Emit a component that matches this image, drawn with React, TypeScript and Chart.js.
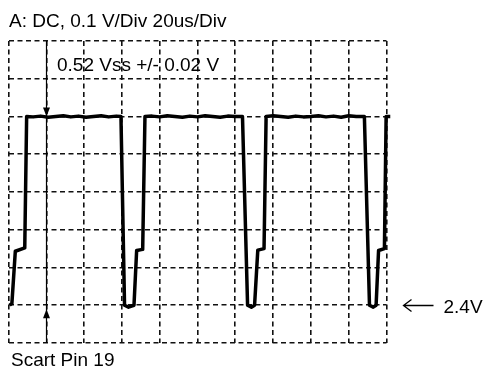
import React, { useEffect, useRef } from "react";
import { Chart, registerables } from "chart.js";

Chart.register(...registerables);

// Time base (us) and measured voltage (V) of the trace
const timeUs = [
  0.6, 1.8, 3.6, 8.6, 9.6,
  13, 17, 21, 25, 29, 33, 37, 41, 45, 49, 53, 57,
  59.5, 61.4, 63.5, 66.4, 67.8, 71, 72.2,
  76, 80, 84, 88, 92, 96, 100, 104, 108, 112, 116, 120,
  123.8, 126.5, 128.5, 130.2, 131.9, 135.2, 136.3,
  140, 144, 148, 152, 156, 160, 164, 168, 172, 176, 180, 184,
  188.3, 191, 193, 194.5, 195.8, 198.9, 199.8, 202,
];
const voltsV = [
  2.40, 2.405, 2.543, 2.552, 2.90,
  2.899, 2.901, 2.898, 2.9, 2.902, 2.899, 2.901, 2.898, 2.9, 2.902, 2.899, 2.901,
  2.90, 2.40, 2.395, 2.40, 2.545, 2.548, 2.90,
  2.901, 2.899, 2.902, 2.9, 2.898, 2.901, 2.899, 2.902, 2.9, 2.898, 2.901, 2.9,
  2.90, 2.40, 2.395, 2.40, 2.546, 2.55, 2.90,
  2.902, 2.9, 2.898, 2.901, 2.899, 2.9, 2.902, 2.899, 2.901, 2.898, 2.902, 2.9,
  2.90, 2.40, 2.395, 2.40, 2.545, 2.55, 2.90, 2.90,
];

// Grid: 10 x 8 divisions, 20 us/div and 0.1 V/div
const timeMinUs = 0;
const timeMaxUs = 200;
const timeStepUs = 20;
const voltMinV = 2.3;
const voltMaxV = 3.1;
const voltStepV = 0.1;

// Annotations
const titleText = "A: DC, 0.1 V/Div 20us/Div";
const measureText = "0.52 Vss +/- 0.02 V";
const levelText = "2.4V";
const pinText = "Scart Pin 19";
const markerTimeUs = 20;
const highLevelV = 2.9;
const lowLevelV = 2.4;

const FONT = '19px "Liberation Sans", Arial, sans-serif';
const INK = "#000000";

const annotationPlugin = {
  id: "scopeAnnotations",
  afterDraw(chart: any) {
    const ctx = chart.ctx as CanvasRenderingContext2D;
    const xs = chart.scales.x;
    const ys = chart.scales.y;
    const area = chart.chartArea;
    ctx.save();
    ctx.fillStyle = INK;
    ctx.strokeStyle = INK;

    // vertical measurement arrow
    const mx = Math.round(xs.getPixelForValue(markerTimeUs)) + 0.5;
    ctx.lineWidth = 1.2;
    ctx.beginPath();
    ctx.moveTo(mx, area.top);
    ctx.lineTo(mx, area.bottom);
    ctx.stroke();
    const hiY = ys.getPixelForValue(highLevelV);
    ctx.beginPath();
    ctx.moveTo(mx, hiY);
    ctx.lineTo(mx - 3.5, hiY - 9);
    ctx.lineTo(mx + 3.5, hiY - 9);
    ctx.closePath();
    ctx.fill();
    const loY = ys.getPixelForValue(lowLevelV) + 4;
    ctx.beginPath();
    ctx.moveTo(mx, loY);
    ctx.lineTo(mx - 3.5, loY + 9);
    ctx.lineTo(mx + 3.5, loY + 9);
    ctx.closePath();
    ctx.fill();

    // level arrow at right
    const ly = Math.round(ys.getPixelForValue(lowLevelV)) + 0.5;
    const ax0 = area.right + 17;
    const ax1 = area.right + 47;
    ctx.lineWidth = 1.3;
    ctx.beginPath();
    ctx.moveTo(ax1, ly);
    ctx.lineTo(ax0, ly);
    ctx.moveTo(ax0 + 8, ly - 6);
    ctx.lineTo(ax0, ly);
    ctx.lineTo(ax0 + 8, ly + 6);
    ctx.stroke();

    ctx.font = FONT;
    ctx.textBaseline = "alphabetic";
    ctx.textAlign = "left";
    ctx.fillText(titleText, 9, 27);
    ctx.fillText(measureText, 57, 70.5);
    ctx.fillText(levelText, area.right + 57, ly + 7);
    ctx.fillText(pinText, 11, 366);
    ctx.restore();
  },
};

export default function App() {
  const canvasRef = useRef<HTMLCanvasElement | null>(null);

  useEffect(() => {
    if (!canvasRef.current) return;
    const points = timeUs.map((t, i) => ({ x: t, y: voltsV[i] }));
    const gridOpts = {
      display: true,
      color: "#111111",
      lineWidth: 1.6,
      drawTicks: false,
      tickLength: 0,
    };
    const chart = new Chart(canvasRef.current, {
      type: "line",
      data: {
        datasets: [
          {
            data: points,
            borderColor: INK,
            borderWidth: 3.5,
            pointRadius: 0,
            tension: 0,
            fill: false,
            clip: false as any,
            borderJoinStyle: "round",
          } as any,
        ],
      },
      options: {
        animation: false,
        responsive: false,
        parsing: false as any,
        layout: { padding: { left: 8.5, right: 97.5, top: 41, bottom: 25 } },
        plugins: {
          legend: { display: false },
          tooltip: { enabled: false },
          title: { display: false },
        },
        scales: {
          x: {
            type: "linear",
            min: timeMinUs,
            max: timeMaxUs,
            ticks: { display: false, stepSize: timeStepUs },
            grid: gridOpts as any,
            border: { display: false, dash: [5, 3.5] },
          },
          y: {
            type: "linear",
            min: voltMinV,
            max: voltMaxV,
            ticks: { display: false, stepSize: voltStepV },
            grid: gridOpts as any,
            border: { display: false, dash: [5, 3.5] },
          },
        },
      },
      plugins: [annotationPlugin],
    });
    return () => chart.destroy();
  }, []);

  return (
    <div style={{ position: "fixed", left: 0, top: 0, width: 484, height: 368, background: "#fff" }}>
      <canvas ref={canvasRef} width={484} height={368} />
    </div>
  );
}
